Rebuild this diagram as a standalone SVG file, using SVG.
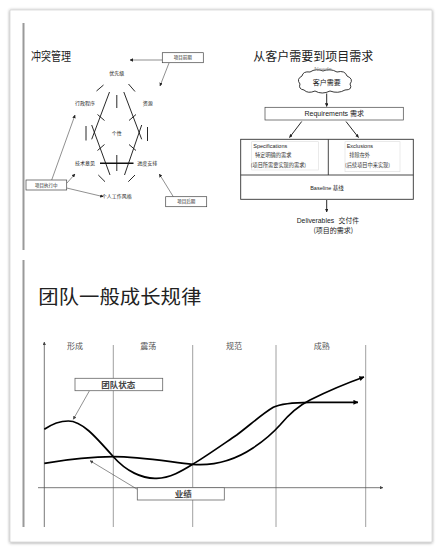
<svg xmlns="http://www.w3.org/2000/svg" width="442" height="552" viewBox="0 0 442 552">
<defs>
<filter id="sh" x="-5%" y="-5%" width="110%" height="110%">
<feDropShadow dx="0" dy="0.5" stdDeviation="1.6" flood-color="#000" flood-opacity="0.45"/>
</filter>
<marker id="ah" viewBox="0 0 6 6" refX="5.5" refY="3" markerWidth="3.5" markerHeight="3.5" markerUnits="userSpaceOnUse" orient="auto">
<path d="M0,0 L6,3 L0,6 Z" fill="#222"/>
</marker>
<marker id="ahb" viewBox="0 0 6 6" refX="5.5" refY="3" markerWidth="5" markerHeight="5" markerUnits="userSpaceOnUse" orient="auto">
<path d="M0,0 L6,3 L0,6 Z" fill="#000"/>
</marker>
<marker id="ahg" viewBox="0 0 6 6" refX="5.5" refY="3" markerWidth="3.5" markerHeight="3.5" markerUnits="userSpaceOnUse" orient="auto">
<path d="M0,0 L6,3 L0,6 Z" fill="#444"/>
</marker>
<style>
.cn{font-family:"Noto Sans CJK SC","Noto Sans",sans-serif;}
.lat{font-family:"Liberation Sans","Noto Sans CJK SC",sans-serif;}
.t5{font-size:5px;fill:#222;text-anchor:middle;}
.t45{font-size:4.5px;fill:#222;text-anchor:middle;}
.box{fill:#fff;stroke:#444;stroke-width:0.7;}
.ln{stroke:#111;stroke-width:0.9;fill:none;}
.ptr{stroke:#444;stroke-width:0.6;fill:none;}
.vg{stroke:#888;stroke-width:0.8;}
.crv{stroke:#000;stroke-width:1.7;fill:none;}
.lbl{font-size:8px;fill:#555;text-anchor:middle;}
.cbox{fill:#fff;stroke:#666;stroke-width:0.8;}
</style>
</defs>
<rect x="0" y="0" width="442" height="552" fill="#fff"/>
<rect x="10" y="10" width="422" height="532" fill="#fff" stroke="#c8c8c8" stroke-width="0.6" filter="url(#sh)"/>
<g id="leftbar" fill="#9a9a9a">
<rect x="22.5" y="23" width="2" height="227"/>
<rect x="22.5" y="260" width="2" height="267"/>
</g>

<!-- Conflict management -->
<text class="cn" x="31" y="60.5" font-size="12" fill="#222" textLength="40" lengthAdjust="spacingAndGlyphs">冲突管理</text>
<g id="conflict-lines" stroke="#111" stroke-width="0.9" fill="none">
<line x1="96.5" y1="91" x2="103.5" y2="85"/>
<line x1="128.5" y1="84" x2="135" y2="91.5"/>
<line x1="116.8" y1="95" x2="116.8" y2="108"/>
<line x1="109.5" y1="92" x2="91.7" y2="139.3"/>
<line x1="91.7" y1="125" x2="110" y2="175"/>
<line x1="123.8" y1="92" x2="141.7" y2="139.3"/>
<line x1="141.7" y1="125" x2="124.5" y2="175"/>
<line x1="97.5" y1="114.5" x2="104.5" y2="120.5"/>
<line x1="97.5" y1="150.5" x2="104.5" y2="144.5"/>
<line x1="129" y1="120.5" x2="136" y2="114.5"/>
<line x1="129" y1="144.5" x2="136" y2="150.5"/>
<line x1="86" y1="126" x2="86" y2="140.5"/>
<line x1="147.5" y1="127" x2="147.5" y2="141"/>
<line x1="100" y1="163.3" x2="133.5" y2="163.3" stroke-width="1.5"/>
<line x1="116.8" y1="155" x2="116.8" y2="171"/>
<line x1="98.3" y1="175" x2="105" y2="181.7"/>
<line x1="128.3" y1="181.7" x2="135" y2="175"/>
</g>
<g id="conflict-labels" class="cn">
<text class="t5" x="116.7" y="74.5">优先级</text>
<text class="t5" x="85" y="105">行政程序</text>
<text class="t5" x="147.7" y="105">资源</text>
<text class="t5" x="116.7" y="135">个性</text>
<text class="t5" x="85" y="165">技术意见</text>
<text class="t5" x="147.3" y="165">进度安排</text>
<text class="t5" x="116.7" y="197.5">个人工作风格</text>
</g>
<g id="conflict-connectors">
<line class="ptr" x1="162.3" y1="60" x2="130" y2="60" marker-end="url(#ah)"/>
<line class="ptr" x1="169" y1="63" x2="160" y2="86" marker-end="url(#ah)"/>
<line class="ptr" x1="51.7" y1="180" x2="75" y2="115" marker-end="url(#ah)"/>
<line class="ptr" x1="66.7" y1="183.3" x2="75" y2="174" marker-end="url(#ah)"/>
<line class="ptr" x1="66.7" y1="188" x2="103.3" y2="196.7" marker-end="url(#ah)"/>
<line class="ptr" x1="173.3" y1="196.7" x2="159.3" y2="174" marker-end="url(#ah)"/>
</g>
<g id="node-qianqi">
<rect class="box" x="162.3" y="52.7" width="41" height="10"/>
<text class="cn t45" x="182.8" y="59.3">项目前期</text>
</g>
<g id="node-zhixing">
<rect class="box" x="26" y="180" width="40.7" height="10"/>
<text class="cn t45" x="46.3" y="186.6">项目执行中</text>
</g>
<g id="node-houqi">
<rect class="box" x="165.7" y="196.7" width="41" height="10"/>
<text class="cn t45" x="186.2" y="203.3">项目后期</text>
</g>

<!-- Requirements section -->
<text class="cn" x="253.3" y="60.5" font-size="12" fill="#222" textLength="120" lengthAdjust="spacingAndGlyphs">从客户需要到项目需求</text>
<g id="node-needs">
<path d="M304,90 Q298,89 300,84 Q296,79 302,76 Q303,71 310,72 Q316,68 323,71 Q330,68 337,72 Q345,70 347,76 Q354,79 350,84 Q353,90 345,90 Q338,94 330,91 Q322,95 315,91 Q308,94 304,90 Z" fill="#fff" stroke="#222" stroke-width="0.9"/>
<text class="lat" x="323" y="71" font-size="6" fill="#888" text-anchor="middle">Needs</text>
<text class="cn" x="326.7" y="85.2" font-size="7" fill="#222" text-anchor="middle">客户需要</text>
</g>
<g id="node-requirements">
<rect class="box" x="265" y="107.3" width="138.3" height="12.7"/>
<text class="lat" x="334.3" y="116.2" font-size="7" fill="#222" text-anchor="middle">Requirements 需求</text>
</g>
<g id="node-baseline">
<rect x="240.7" y="139.3" width="172.6" height="60" fill="#fff" stroke="#333" stroke-width="0.9"/>
<line x1="240.7" y1="175" x2="413.3" y2="175" stroke="#333" stroke-width="0.9"/>
<line x1="328.3" y1="139.3" x2="328.3" y2="175" stroke="#333" stroke-width="0.9"/>
<text class="lat" x="327" y="190" font-size="5.5" fill="#222" text-anchor="middle">Baseline 基线</text>
</g>
<g id="node-specifications">
<rect x="251.7" y="141.7" width="66.6" height="28.3" fill="#fff" stroke="#ddd" stroke-width="0.6"/>
<text class="lat" x="253.3" y="147.7" font-size="5.5" fill="#222">Specifications</text>
<text class="cn" x="255" y="157" font-size="5.2" fill="#333">特定明确的需求</text>
<text class="cn" x="250.7" y="167" font-size="5.2" fill="#333">(项目所需要实现的需求)</text>
</g>
<g id="node-exclusions">
<rect x="345" y="141.7" width="55" height="30" fill="#fff" stroke="#ddd" stroke-width="0.6"/>
<text class="lat" x="346.7" y="147.7" font-size="5.5" fill="#222">Exclusions</text>
<text class="cn" x="349.3" y="157" font-size="5.2" fill="#333">排除在外</text>
<text class="cn" x="345" y="167" font-size="5.2" fill="#333">(后续项目中来实现)</text>
</g>
<g id="node-deliverables">
<text x="296.7" y="222.5" font-size="6.8" fill="#222"><tspan class="lat">Deliverables</tspan><tspan class="cn" dx="4.5">交付件</tspan></text>
<text class="cn" x="333.3" y="232.5" font-size="7" fill="#222" text-anchor="middle">(项目的需求)</text>
</g>
<g id="req-connectors">
<line class="ln" x1="326.7" y1="93.5" x2="326.7" y2="106.5" stroke-width="0.6" marker-end="url(#ah)"/>
<line class="ln" x1="301.7" y1="121.5" x2="289.5" y2="137.5" stroke-width="0.6" marker-end="url(#ah)"/>
<line class="ln" x1="346" y1="121.5" x2="358.5" y2="137.5" stroke-width="0.6" marker-end="url(#ah)"/>
<line class="ln" x1="326.7" y1="200" x2="326.7" y2="212" stroke-width="0.6" marker-end="url(#ah)"/>
</g>

<!-- Team growth chart -->
<text class="cn" x="38.3" y="303.5" font-size="19" fill="#222" textLength="163" lengthAdjust="spacingAndGlyphs">团队一般成长规律</text>
<g id="chart-grid">
<line class="vg" x1="113.3" y1="345" x2="113.3" y2="527"/>
<line class="vg" x1="192.7" y1="345" x2="192.7" y2="527"/>
<line class="vg" x1="276" y1="345" x2="276" y2="527"/>
<line class="vg" x1="365.7" y1="345" x2="365.7" y2="527"/>
<line x1="44.3" y1="527" x2="44.3" y2="342" stroke="#555" stroke-width="0.8" marker-end="url(#ahg)"/>
<line x1="38" y1="487.7" x2="383" y2="487.7" stroke="#555" stroke-width="0.8" marker-end="url(#ahg)"/>
</g>
<g id="phase-labels" class="cn">
<text class="lbl" x="75" y="349">形成</text>
<text class="lbl" x="148.3" y="349">震荡</text>
<text class="lbl" x="234" y="349">规范</text>
<text class="lbl" x="321.7" y="349">成熟</text>
</g>
<g id="curves">
<path class="crv" d="M44.3,429.3 C52,424 60,421 68.3,421 C82,421 95,436 113.3,456.7 C126,471 142,479 156.7,478.3 C170,478 182,471 192.7,464.3 C205,457 222,445 236.7,435 C250,425 262,414 273.3,407.3 C280,404 290,402.5 310,402.3 L358,402.3" marker-end="url(#ahb)"/>
<path class="crv" d="M44.3,463.3 C70,459 92,456.7 113.3,456.7 C140,456.7 170,462 192.7,464.3 C215,466 235,460 253,448 C265,440 272,434 280,425 C290,413 298,406 310,400 C330,390 350,382 364,377" marker-end="url(#ahb)"/>
</g>
<g id="chart-connectors">
<line class="ptr" x1="89.3" y1="391" x2="73.3" y2="419.3" stroke="#555" marker-end="url(#ahg)"/>
<line class="ptr" x1="137.3" y1="489.3" x2="90" y2="460.7" stroke="#555" marker-end="url(#ahg)"/>
</g>
<g id="node-tuandui">
<rect class="cbox" x="75" y="378.3" width="87.7" height="12.4"/>
<text class="cn" x="118.3" y="387.5" font-size="8.5" fill="#444" font-weight="bold" text-anchor="middle">团队状态</text>
</g>
<g id="node-yeji">
<rect class="cbox" x="137.3" y="487.7" width="87" height="12.3"/>
<text class="cn" x="183.3" y="497" font-size="8.5" fill="#444" font-weight="bold" text-anchor="middle">业绩</text>
</g>
</svg>
